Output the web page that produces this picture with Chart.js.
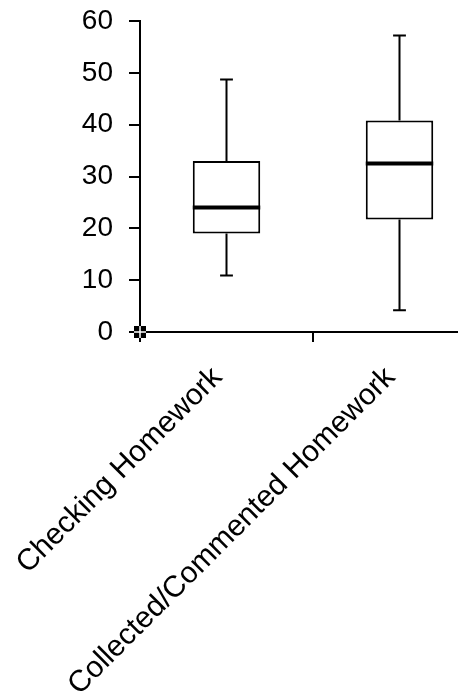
<!DOCTYPE html>
<html>
<head>
<meta charset="utf-8">
<script src="https://cdn.jsdelivr.net/npm/chart.js@4/dist/chart.umd.min.js"></script>
<style>
  html, body { margin: 0; padding: 0; background: #fff; overflow: hidden; }
  #wrap { width: 500px; height: 698px; }
</style>
</head>
<body>
<div id="wrap"><canvas id="chart" width="500" height="698"></canvas></div>
<script>
const categories = ['Checking Homework', 'Collected/Commented Homework'];
const minValues = [10.9, 4.2];
const q1Values = [19.0, 21.7];
const medianValues = [24.0, 32.5];
const q3Values = [33.0, 40.8];
const maxValues = [48.7, 57.2];

const FONT = "Arial, 'Liberation Sans', sans-serif";

// whiskers + median line, drawn on top of the floating bars
const boxPlotExtras = {
  id: 'boxPlotExtras',
  afterDatasetsDraw(chart) {
    const ctx = chart.ctx;
    const y = chart.scales.y;
    const meta = chart.getDatasetMeta(0);
    meta.data.forEach((bar, i) => {
      const x = bar.x;
      const half = bar.width / 2;
      const cap = bar.width * 0.095;
      const pMin = y.getPixelForValue(minValues[i]);
      const pQ1 = y.getPixelForValue(q1Values[i]);
      const pMed = y.getPixelForValue(medianValues[i]);
      const pQ3 = y.getPixelForValue(q3Values[i]);
      const pMax = y.getPixelForValue(maxValues[i]);
      ctx.save();
      ctx.strokeStyle = '#000';
      ctx.lineWidth = 2;
      ctx.beginPath();
      ctx.moveTo(x, pQ3); ctx.lineTo(x, pMax);
      ctx.moveTo(x - cap, pMax); ctx.lineTo(x + cap, pMax);
      ctx.moveTo(x, pQ1); ctx.lineTo(x, pMin);
      ctx.moveTo(x - cap, pMin); ctx.lineTo(x + cap, pMin);
      ctx.stroke();
      ctx.lineWidth = 4;
      ctx.beginPath();
      ctx.moveTo(x - half, pMed); ctx.lineTo(x + half, pMed);
      ctx.stroke();
      ctx.restore();
    });
  },
  // little selection handle sitting on the origin in the original
  afterDraw(chart) {
    const ctx = chart.ctx;
    const ox = chart.chartArea.left;
    const oy = chart.scales.y.getPixelForValue(0);
    ctx.save();
    ctx.fillStyle = '#000';
    ctx.fillRect(ox - 6, oy - 6, 12, 12);
    ctx.strokeStyle = '#fff';
    ctx.lineWidth = 1.5;
    ctx.beginPath();
    ctx.moveTo(ox - 6, oy); ctx.lineTo(ox + 6, oy);
    ctx.moveTo(ox, oy - 6); ctx.lineTo(ox, oy + 6);
    ctx.stroke();
    ctx.restore();
  }
};

// fixed axis sizes so the plot area sits where the reference has it
const fixX = s => { s.height = 366; s.paddingLeft = 0; s.paddingRight = 0; };
const fixY = s => { s.width = 140; s.paddingTop = 0; s.paddingBottom = 0; };

new Chart(document.getElementById('chart'), {
  type: 'bar',
  data: {
    labels: categories,
    datasets: [{
      data: categories.map((c, i) => [q1Values[i], q3Values[i]]),
      backgroundColor: '#fff',
      borderColor: '#000',
      borderWidth: 2,
      borderSkipped: false,
      barPercentage: 0.39,
      categoryPercentage: 1
    }]
  },
  options: {
    responsive: false,
    animation: false,
    layout: { padding: { top: 21, left: 0, right: 14, bottom: 0 } },
    plugins: { legend: { display: false }, tooltip: { enabled: false } },
    scales: {
      x: {
        afterFit: fixX,
        grid: { drawOnChartArea: false, color: '#000', lineWidth: 2, tickLength: 10 },
        border: { color: '#000', width: 2 },
        ticks: {
          color: '#000',
          font: { family: FONT, size: 30 },
          minRotation: 45,
          maxRotation: 45,
          padding: 18,
          labelOffset: -9
        }
      },
      y: {
        min: 0,
        max: 60,
        afterFit: fixY,
        grid: { drawOnChartArea: false, color: '#000', lineWidth: 2, tickLength: 11 },
        border: { color: '#000', width: 2 },
        ticks: {
          stepSize: 10,
          color: '#000',
          font: { family: FONT, size: 28 },
          padding: 16
        }
      }
    }
  },
  plugins: [boxPlotExtras]
});
</script>
</body>
</html>
